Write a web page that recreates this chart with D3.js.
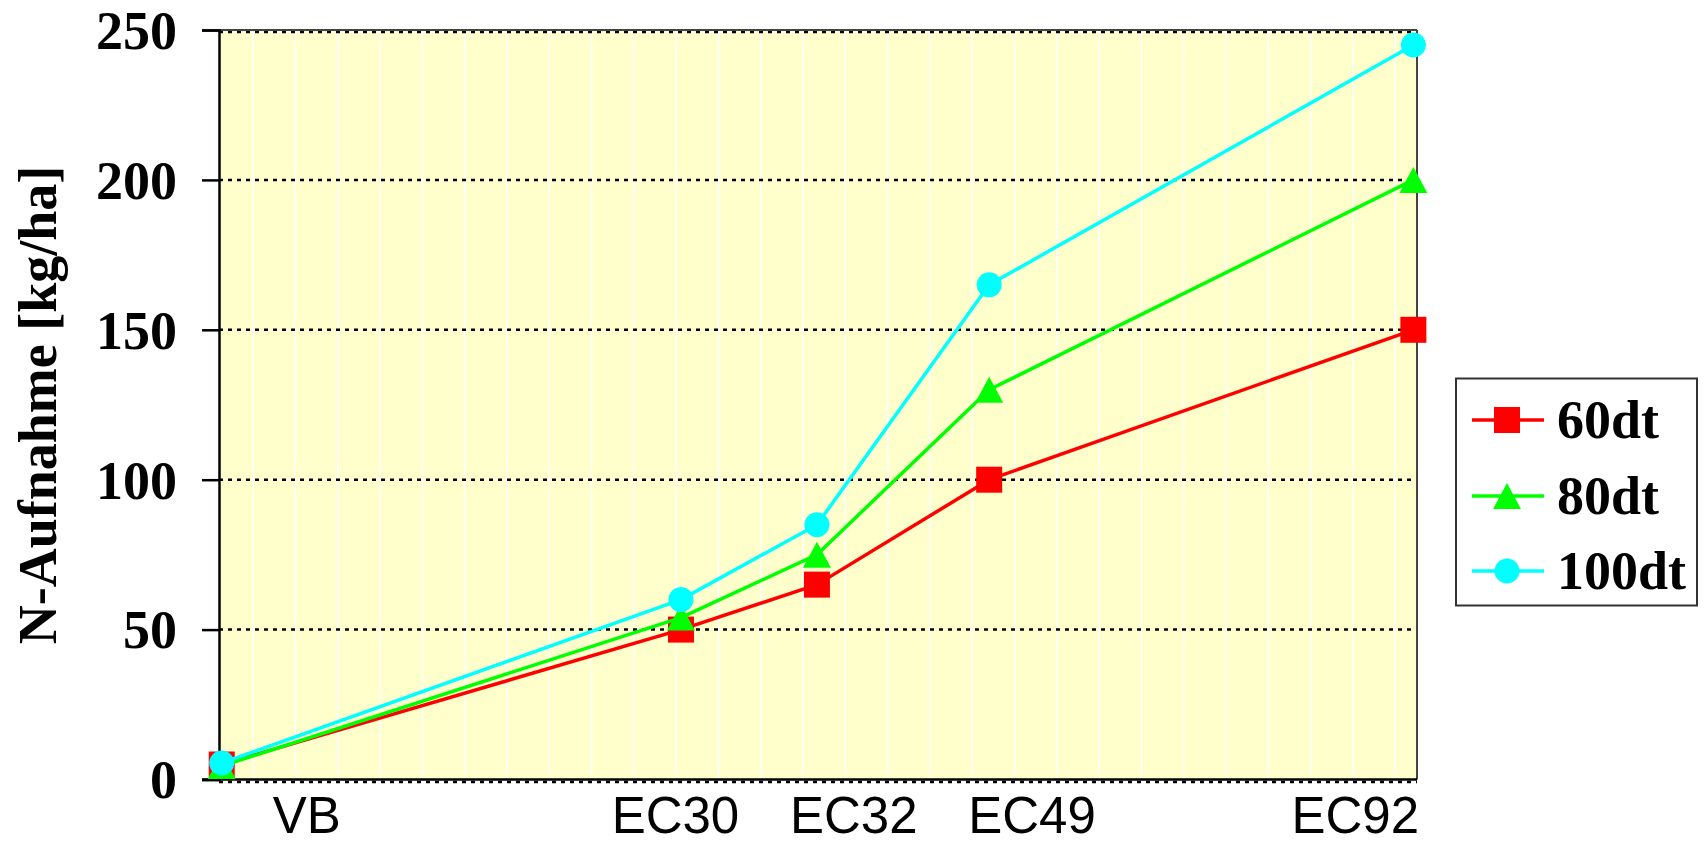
<!DOCTYPE html>
<html><head><meta charset="utf-8">
<script src="https://cdn.jsdelivr.net/npm/d3@7"></script>
<style>body{margin:0;background:#fff;overflow:hidden}</style>
</head><body><svg id="c" width="1707" height="843"></svg>
<script>
// ---- data ----
const seriesNames = ["60dt", "80dt", "100dt"];
const stageDays = [0, 76, 98.5, 127, 197.2];          // days after VB
const values60 = [5, 50, 65, 100, 150];
const values80 = [4.5, 54, 75, 130, 200];
const values100 = [5.5, 60, 85, 165, 245];
const stageLabels = ["VB", "EC30", "EC32", "EC49", "EC92"];
const stageLabelDays = [14, 75, 104.5, 134, 187.5];
const yTicks = [0, 50, 100, 150, 200, 250];
const xDomain = [-0.45, 197.8];
const gridStart = 5.2, gridStep = 7;
const yTitle = "N-Aufnahme [kg/ha]";

// ---- layout ----
const L = 219, R = 1417, T = 30, B = 779.5;
const svg = d3.select("#c");
const x = d3.scaleLinear().domain(xDomain).range([L, R]);
const y = d3.scaleLinear().domain([0, 250]).range([B, T]);

const colors = ["#ff0000", "#00ff00", "#00ffff"];
const shapes = ["square", "triangle", "circle"];
const series = [values60, values80, values100].map((v, i) => ({
  name: seriesNames[i], color: colors[i], shape: shapes[i],
  pts: v.map((val, j) => ({d: stageDays[j], v: val}))
}));

// background
svg.append("rect").attr("x", L).attr("y", T).attr("width", R - L).attr("height", B - T)
  .attr("fill", "#ffffcc");

// vertical white gridlines
const gridDays = d3.range(gridStart, xDomain[1], gridStep);
svg.append("g").selectAll("line").data(gridDays).join("line")
  .attr("x1", d => x(d)).attr("x2", d => x(d)).attr("y1", T).attr("y2", B)
  .attr("stroke", "#ffffff").attr("stroke-width", 1.5);

// horizontal dotted gridlines
svg.append("g").selectAll("line").data(yTicks).join("line")
  .attr("x1", L).attr("x2", R)
  .attr("y1", d => y(d) + (d === 0 ? 2.5 : d === 250 ? 2 : 0))
  .attr("y2", d => y(d) + (d === 0 ? 2.5 : d === 250 ? 2 : 0))
  .attr("stroke", "#000").attr("stroke-width", 2.5).attr("stroke-dasharray", "4,5");

// frame
svg.append("line").attr("x1", L).attr("x2", R).attr("y1", T).attr("y2", T)
  .attr("stroke", "#444").attr("stroke-width", 2);
svg.append("line").attr("x1", R).attr("x2", R).attr("y1", T).attr("y2", B)
  .attr("stroke", "#444").attr("stroke-width", 2);

// y axis
const yAxis = d3.axisLeft(y).tickValues(yTicks).tickSize(17).tickPadding(25)
  .tickFormat(d3.format("d"));
const gy = svg.append("g").attr("transform", `translate(${L},0)`).call(yAxis);
gy.select(".domain").attr("stroke", "#000").attr("stroke-width", 2.5);
gy.selectAll(".tick line").attr("stroke", "#000").attr("stroke-width", 2.5);
gy.selectAll(".tick text")
  .attr("font-family", "'Liberation Serif','Times New Roman',serif")
  .attr("font-weight", "bold").attr("font-size", 54).attr("fill", "#000").attr("dy", "0.34em");

// bottom axis line
svg.append("line").attr("x1", L - 17).attr("x2", R).attr("y1", B).attr("y2", B)
  .attr("stroke", "#000").attr("stroke-width", 2.5);

// x labels via axis
const xAxis = d3.axisBottom(x).tickValues(stageLabelDays).tickSize(0)
  .tickFormat((d, i) => stageLabels[i]);
const gx = svg.append("g").attr("transform", `translate(0,${B})`).call(xAxis);
gx.select(".domain").remove();
gx.selectAll(".tick text").attr("y", 833 - B).attr("dy", 0)
  .attr("font-family", "'Liberation Sans',Arial,sans-serif")
  .attr("font-size", 51).attr("fill", "#000");

// y title
svg.append("text").attr("transform", `translate(56,405) rotate(-90)`)
  .attr("text-anchor", "middle")
  .attr("font-family", "'Liberation Serif','Times New Roman',serif")
  .attr("font-weight", "bold").attr("font-size", 54).attr("fill", "#000")
  .text(yTitle);

// markers
function marker(sel, shape, color) {
  if (shape === "square") {
    sel.append("rect").attr("x", -13).attr("y", -13).attr("width", 26).attr("height", 26)
      .attr("fill", color);
  } else if (shape === "circle") {
    sel.append("circle").attr("r", 12.5).attr("fill", color);
  } else {
    sel.append("path").attr("d", "M0,-13L14,13L-14,13Z").attr("fill", color);
  }
}

const line = d3.line().x(p => x(p.d)).y(p => y(p.v));
series.forEach(s => {
  const g = svg.append("g");
  g.append("path").attr("d", line(s.pts)).attr("fill", "none")
    .attr("stroke", s.color).attr("stroke-width", 3.5).attr("stroke-linejoin", "round");
  g.selectAll("g").data(s.pts).join("g")
    .attr("transform", p => `translate(${x(p.d)},${y(p.v)})`)
    .each(function () { marker(d3.select(this), s.shape, s.color); });
});

// legend
const lg = svg.append("g");
lg.append("rect").attr("x", 1456).attr("y", 378.5).attr("width", 241).attr("height", 227)
  .attr("fill", "#fff").attr("stroke", "#333").attr("stroke-width", 2);
const rowY = [420, 496, 571];
series.forEach((s, i) => {
  const r = lg.append("g").attr("transform", `translate(0,${rowY[i]})`);
  r.append("line").attr("x1", 1472).attr("x2", 1544).attr("y1", 0).attr("y2", 0)
    .attr("stroke", s.color).attr("stroke-width", 3.5);
  const m = r.append("g").attr("transform", "translate(1507,0)");
  marker(m, s.shape, s.color);
  r.append("text").attr("x", 1557).attr("y", 18)
    .attr("font-family", "'Liberation Serif','Times New Roman',serif")
    .attr("font-weight", "bold").attr("font-size", 54).attr("fill", "#000")
    .text(s.name);
});
</script>
</body></html>
